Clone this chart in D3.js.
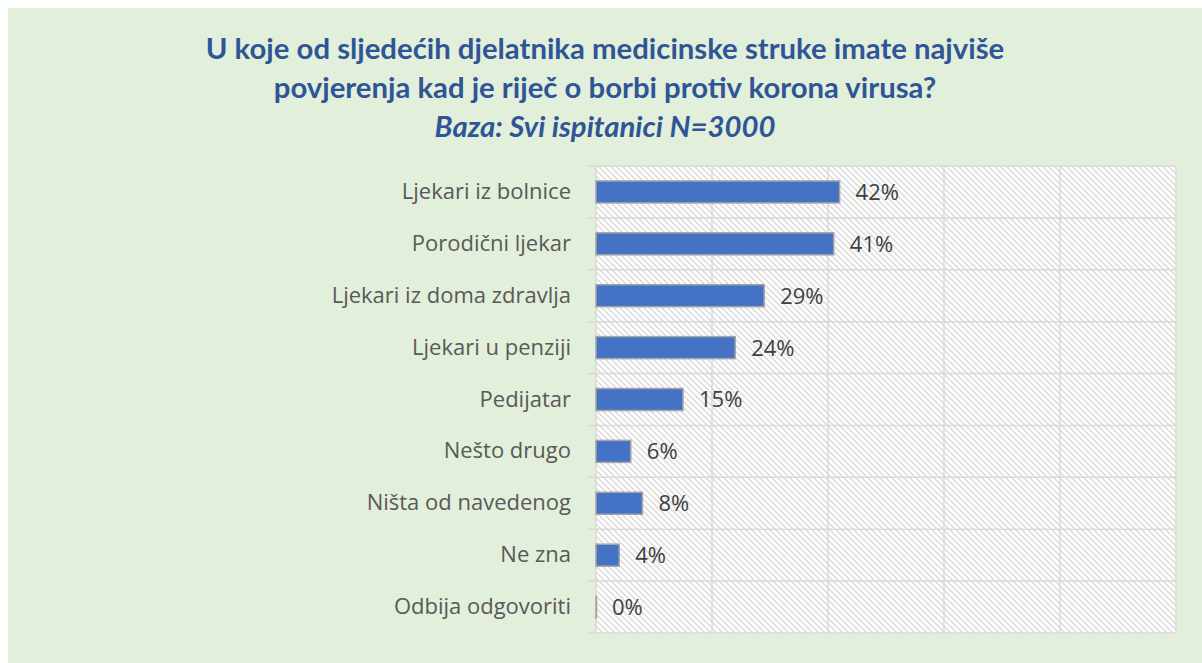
<!DOCTYPE html>
<html><head><meta charset="utf-8">
<script src="https://cdn.jsdelivr.net/npm/d3@7"></script>
<style>body{margin:0;background:#fff}svg{display:block}</style>
</head><body>
<script>
const categories = ["Ljekari iz bolnice","Porodični ljekar","Ljekari iz doma zdravlja","Ljekari u penziji","Pedijatar","Nešto drugo","Ništa od navedenog","Ne zna","Odbija odgovoriti"];
const values = [42,41,29,24,15,6,8,4,0];
const xTicks = [0,20,40,60,80,100];
const titleLines = ["U koje od sljedećih djelatnika medicinske struke imate najviše","povjerenja kad je riječ o borbi protiv korona virusa?"];
const subtitle = "Baza: Svi ispitanici N=3000";

const W=1202,H=663;
const svg=d3.select("body").append("svg").attr("width",W).attr("height",H);
const defs=svg.append("defs");
const pat=defs.append("pattern").attr("id","hatch").attr("patternUnits","userSpaceOnUse").attr("width",6).attr("height",6);
pat.append("rect").attr("width",6).attr("height",6).attr("fill","#fff");
pat.append("path").attr("d","M0,0L6,6M-2,4L2,8M4,-2L8,2").attr("stroke","#dedede").attr("stroke-width",1.6);

svg.append("rect").attr("x",8).attr("y",8).attr("width",W-8).attr("height",H-8).attr("fill","#E2EFDA");

const font="Lato, 'Open Sans', sans-serif";
const lfont="'Open Sans', sans-serif";
const cx=605;
svg.selectAll("text.title").data(titleLines).join("text").attr("class","title")
  .attr("x",cx).attr("y",(d,i)=>59+i*39).attr("text-anchor","middle")
  .attr("font-family",font).attr("font-weight","bold").attr("font-size",29.3).attr("fill","#2F5597").text(d=>d);
svg.append("text").attr("x",cx).attr("y",137).attr("text-anchor","middle")
  .attr("font-family",font).attr("font-weight","bold").attr("font-style","italic").attr("font-size",29.3).attr("fill","#2F5597").text(subtitle);

const L=596,R=1176,T=166,B=633;
const x=d3.scaleLinear().domain([0,100]).range([L,R]);
const y=d3.scaleBand().domain(categories).range([T,B]).paddingInner(0.576).paddingOuter(0.288);

svg.append("rect").attr("x",L).attr("y",T).attr("width",R-L).attr("height",B-T).attr("fill","url(#hatch)");
const grid="#d9d9d9";
svg.append("g").selectAll("line").data(xTicks).join("line")
  .attr("x1",d=>x(d)).attr("x2",d=>x(d)).attr("y1",T).attr("y2",B).attr("stroke",grid).attr("stroke-width",1.5);
const step=y.step();
const bounds=d3.range(categories.length+1).map(i=>T+i*step);
svg.append("g").selectAll("line").data(bounds).join("line")
  .attr("x1",L-9).attr("x2",R).attr("y1",d=>d).attr("y2",d=>d).attr("stroke",grid).attr("stroke-width",1.5);

svg.append("g").selectAll("rect").data(values).join("rect")
  .attr("x",x(0)).attr("y",(d,i)=>y(categories[i])).attr("width",d=>Math.max(x(d)-x(0),0.5))
  .attr("height",y.bandwidth()).attr("fill","#4472C4").attr("stroke","#A5A5A5").attr("stroke-width",1.5);

svg.append("g").selectAll("text").data(values).join("text")
  .attr("x",d=>x(d)+16).attr("y",(d,i)=>y(categories[i])+y.bandwidth()/2).attr("dy","0.36em")
  .attr("font-family",lfont).attr("font-size",22).attr("fill","#404040").text(d=>d+"%");

const yAxis=d3.axisLeft(y).tickSize(0).tickPadding(25);
const ga=svg.append("g").attr("transform",`translate(${L},0)`).call(yAxis);
ga.select(".domain").remove();
ga.selectAll("text").attr("font-family",lfont).attr("font-size",22).attr("fill","#595959");
</script>
</body></html>
